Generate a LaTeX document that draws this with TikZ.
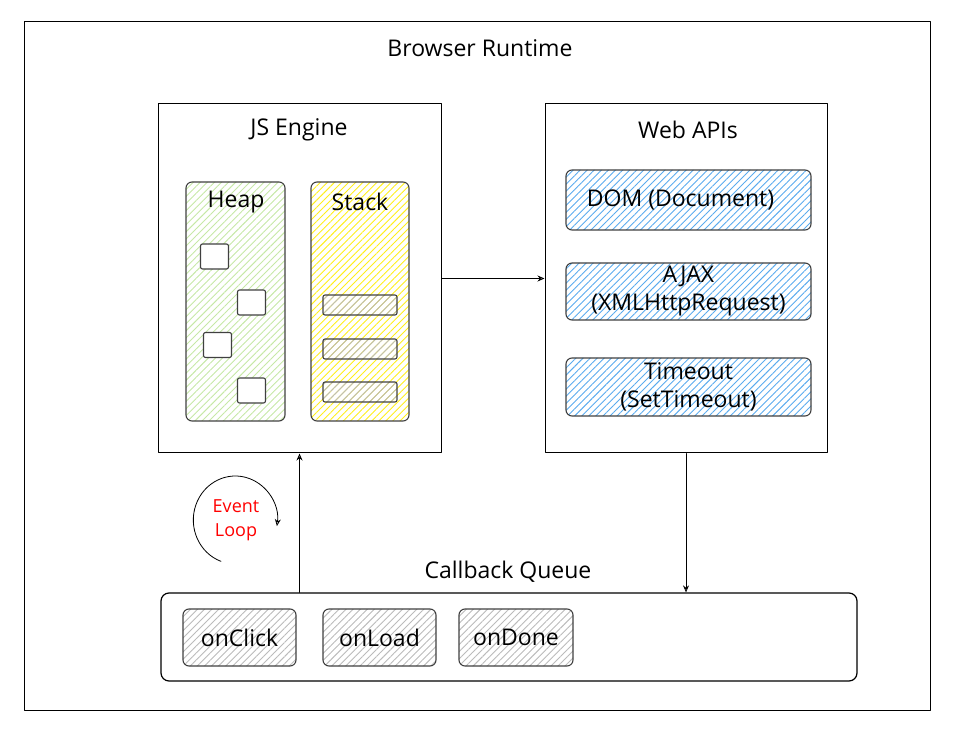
\documentclass[tikz,border=0pt]{standalone}
\usepackage{fontspec}
\setmainfont{Open Sans}
\usepackage{tikz}
\usetikzlibrary{patterns.meta,arrows.meta}

\begin{document}
\begin{tikzpicture}
			[x=1pt,y=1pt,line cap=round,line join=round,
			%Styles
			frame/.style={draw,line width=1pt,inner sep=0pt},
			panel/.style={frame,rounded corners=6pt,line width=1.1pt,draw=black!75},
			hatch/.style={pattern={Lines[angle=45,distance=5pt,line width=0.9pt]},pattern color=#1},
			caption/.style={font=\fontsize{23}{28}\selectfont,align=center,inner sep=1pt},
			small caption/.style={font=\fontsize{18}{24}\selectfont,align=center,text=red,inner sep=1pt},
			flow/.style={-{Stealth[length=7pt,width=6pt,open]},line width=0.9pt}
			]
			
			%Colors
			\definecolor{heapcolor}{HTML}{C6E8A6}
			\definecolor{stackcolor}{HTML}{FFEE1A}
			\definecolor{apicolor}{HTML}{5AABEE}
			\definecolor{itemcolor}{HTML}{BBBBBB}
			
			\useasboundingbox (0,0) rectangle (956,729);
			
			%The graphic
			\node[frame,minimum width=906,minimum height=688] (runtime) at (477,363) {};
			\node[caption] (runtimetitle) at (480,681) {Browser Runtime};
			
			%JS engine
			\node[frame,minimum width=283,minimum height=349] (engine) at (299.5,450.5) {};
			\node[caption] (enginetitle) at (299,599) {JS Engine};
			\node[panel,hatch=heapcolor,minimum width=99,minimum height=239] (heap) at (235.5,427.5) {};
			\node[caption] (heaptitle) at (236,527) {Heap};
			\node[panel,rounded corners=2pt,fill=white,minimum width=28,minimum height=25] (obja) at (214.5,472.5) {};
			\node[panel,rounded corners=2pt,fill=white,minimum width=28,minimum height=25] (objb) at (251.5,426.5) {};
			\node[panel,rounded corners=2pt,fill=white,minimum width=28,minimum height=25] (objc) at (217.5,384) {};
			\node[panel,rounded corners=2pt,fill=white,minimum width=28,minimum height=25] (objd) at (251.5,338.5) {};
			\node[panel,hatch=stackcolor,minimum width=98,minimum height=239] (stack) at (360,427.5) {};
			\node[caption] (stacktitle) at (360,527) {Stack};
			\node[panel,rounded corners=2pt,hatch=itemcolor,minimum width=74,minimum height=20] (framea) at (360,424) {};
			\node[panel,rounded corners=2pt,hatch=itemcolor,minimum width=74,minimum height=20] (frameb) at (360,380) {};
			\node[panel,rounded corners=2pt,hatch=itemcolor,minimum width=74,minimum height=20] (framec) at (360,337) {};
			
			%Web APIs
			\node[frame,minimum width=282,minimum height=349] (web) at (686,450.5) {};
			\node[caption] (webtitle) at (688,599) {Web APIs};
			\node[panel,hatch=apicolor,minimum width=245,minimum height=60] (dom) at (688.5,529) {};
			\node[caption,xshift=-8] at (dom) {DOM (Document)};
			\node[panel,hatch=apicolor,minimum width=245,minimum height=57] (ajax) at (688.5,437.5) {};
			\node[caption] at (ajax) {AJAX\\(XMLHttpRequest)};
			\node[panel,hatch=apicolor,minimum width=245,minimum height=58] (timeout) at (688.5,342) {};
			\node[caption] at (timeout) {Timeout\\(SetTimeout)};
			
			%Callback queue
			\node[panel,rounded corners=8pt,line width=1.2pt,draw=black,minimum width=696,minimum height=88] (queue) at (509,92) {};
			\node[caption] (queuetitle) at (508,157) {Callback Queue};
			\node[panel,hatch=itemcolor,minimum width=113,minimum height=57] (onclick) at (239.5,91.5) {};
			\node[caption] at (onclick) {onClick};
			\node[panel,hatch=itemcolor,minimum width=113,minimum height=57] (onload) at (379.5,91.5) {};
			\node[caption] at (onload) {onLoad};
			\node[panel,hatch=itemcolor,minimum width=114,minimum height=57] (ondone) at (516,91.5) {};
			\node[caption] at (ondone) {onDone};
			
			%Event loop
			\node[small caption] (loop) at (236,209) {Event\\Loop};
			\draw[flow,line width=0.8pt] (loop.center) ++(250:44) arc[start angle=250,end angle=-8,x radius=42,y radius=44];
			
			%Connectors
			\draw[flow] (engine.east) -- (web.west);
			\draw[flow] (web.south) -- (web.south |- queue.north);
			\draw[flow] (queue.north -| engine.south) -- (engine.south);
		\end{tikzpicture}
\end{document}
